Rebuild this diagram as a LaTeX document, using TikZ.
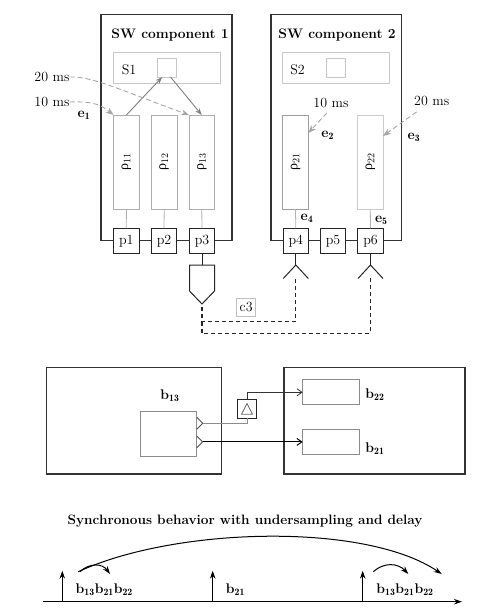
\documentclass[tikz,border=0pt]{standalone}
\usepackage{fontspec}
\newfontfamily\grkfont{Liberation Serif}
\usetikzlibrary{arrows.meta,calc}
\newcommand{\myrho}[1]{{\grkfont ρ}$_{#1}$}
\begin{document}
\begin{tikzpicture}[x=1pt,y=-1pt,
  every node/.style={font=\fontsize{14}{16}\selectfont, text=black, inner sep=0pt, outer sep=0pt},
  titletext/.style={font=\fontsize{13.8}{16}\selectfont\bfseries},
  comp/.style={draw=black!80, line width=1.2pt},
  sbox/.style={draw=black!22, line width=0.9pt},
  rhobox/.style={draw=black!32, line width=0.9pt, minimum width=25.5pt, minimum height=94pt},
  port/.style={draw=black!85, line width=0.9pt, fill=white, minimum width=25.5pt, minimum height=25pt},
  glink/.style={draw=black!30, line width=0.8pt},
  garrow/.style={draw=black!50, line width=0.9pt, -{Stealth[length=7pt,width=5pt]}},
  gdash/.style={draw=black!35, line width=0.9pt, dash pattern=on 5pt off 3pt, -{Stealth[length=8pt,width=6pt]}},
  kdash/.style={draw=black!85, line width=1.1pt, dash pattern=on 4pt off 3pt},
  bigbox/.style={draw=black!80, line width=1.1pt},
  bbox/.style={draw=black!45, line width=0.9pt},
  barb/.style={-{Straight Barb[length=5pt,width=7pt]}},
  karrow/.style={draw=black, line width=1pt, -{Stealth[length=8pt,width=5.5pt]}}
]
\useasboundingbox (0,0) rectangle (484,614);

% ---------------- SW components ----------------
\node[comp, minimum width=131pt, minimum height=226pt] (C1) at (166.5,127.7) {};
\node[comp, minimum width=130.7pt, minimum height=226pt] (C2) at (336.35,127.7) {};
\node[titletext] (T1) at (170,35) {SW component 1};
\node[titletext] (T2) at (337,35) {SW component 2};

\node[sbox, minimum width=107.7pt, minimum height=31pt] (S1) at (166.85,67.8) {};
\node[sbox, minimum width=107pt, minimum height=31pt] (S2) at (335.8,67.8) {};
\node (S1l) at (129,70) {S1};
\node (S2l) at (297.5,70) {S2};
\node[sbox, minimum width=18.5pt, minimum height=19pt] (sq1) at (166.85,67.5) {};
\node[sbox, minimum width=19pt, minimum height=19pt] (sq2) at (335.85,67.5) {};

\node[rhobox] (r11) at (126.4,162) {};
\node[rhobox] (r12) at (164.2,162) {};
\node[rhobox] (r13) at (201.8,162) {};
\node[rhobox, draw=black!38] (r21) at (295.5,162) {};
\node[rhobox, draw=black!20] (r22) at (370.3,162) {};
\node[rotate=90] (r11l) at (r11) {\myrho{11}};
\node[rotate=90] (r12l) at (r12) {\myrho{12}};
\node[rotate=90] (r13l) at (r13) {\myrho{13}};
\node[rotate=90] (r21l) at (r21) {\myrho{21}};
\node[rotate=90] (r22l) at (r22) {\myrho{22}};

\node[port] (p1) at (126.3,240.8) {p1};
\node[port] (p2) at (164,240.8) {p2};
\node[port] (p3) at (202,240.8) {p3};
\node[port] (p4) at (295.8,240.8) {p4};
\node[port] (p5) at (333,240.8) {p5};
\node[port] (p6) at (370.5,240.8) {p6};

\draw[glink] (r11.south) -- (p1.north);
\draw[glink] (r12.south) -- (p2.north);
\draw[glink] (r13.south) -- (p3.north);
\draw[glink] (r21.south) -- (p4.north);
\draw[glink] (r22.south) -- (p6.north);

% internal arrows of component 1
\draw[garrow] (r11.north) -- ($(sq1.south west)!0.25!(sq1.south east)$);
\draw[garrow] ($(sq1.south west)!0.7!(sq1.south east)$) -- (r13.north);

% timing labels
\node (l20a) at (52,77) {20 ms};
\node (l10a) at (52,102) {10 ms};
\node (e1) at (84,115) {\textbf{e}$_{\mathbf{1}}$};
\draw[gdash] (l20a.east) .. controls (92,76) and (120,90) .. (r13.north west);
\draw[gdash] (l10a.east) .. controls (96,101) and (102,106) .. (r11.north west);

\node (l10b) at (331,103) {10 ms};
\node (l20b) at (431.7,101) {20 ms};
\node (e2) at (327.7,135) {\textbf{e}$_{\mathbf{2}}$};
\node (e3) at (414,137) {\textbf{e}$_{\mathbf{3}}$};
\node (e4) at (307,218.3) {\textbf{e}$_{\mathbf{4}}$};
\node (e5) at (381.3,220) {\textbf{e}$_{\mathbf{5}}$};
\draw[gdash] ($(l10b.south)+(-4,5)$) -- ($(r21.north east)+(0,18)$);
\draw[gdash] ($(l20b.south)+(-15,6)$) -- ($(r22.north east)+(0,21)$);

% sender / receivers
\coordinate (o3top) at (202,265);
\coordinate (out3) at (202,304);
\draw[draw=black!85, line width=1pt] (p3.south) -- (o3top);
\draw[draw=black!85, line width=1pt] (189.5,265) -- (189.5,291) -- (out3) -- (214.5,291) -- (214.5,265) -- cycle;
\coordinate (rc4) at (295.8,265);
\coordinate (rc6) at (370.5,265);
\draw[draw=black!85, line width=1pt] (p4.south) -- (rc4);
\draw[draw=black!85, line width=1pt] (p6.south) -- (rc6);
\draw[draw=black!85, line width=1pt] ($(rc4)+(-12.5,13.5)$) -- (rc4) -- ($(rc4)+(12.5,13.5)$);
\draw[draw=black!85, line width=1pt] ($(rc6)+(-12.5,13.5)$) -- (rc6) -- ($(rc6)+(12.5,13.5)$);
\draw[kdash] ($(out3)+(0,3)$) -- (202,321.7) -| ($(rc4)+(0,12)$);
\draw[kdash] (202,321.7) -- (202,333.3) -| ($(rc6)+(0,12)$);
\node[draw=black!25, line width=0.8pt, minimum width=19pt, minimum height=18.5pt] (c3) at (246.2,307.3) {c3};

% ---------------- middle ----------------
\node[bigbox, minimum width=175pt, minimum height=106.7pt] (L) at (134.2,420.65) {};
\node[bigbox, minimum width=181pt, minimum height=106.7pt] (R) at (374.5,420.65) {};
\node[bbox, minimum width=56.7pt, minimum height=45pt] (b13) at (168.35,433.5) {};
\node (b13l) at (170,396) {\textbf{b}$_{\mathbf{13}}$};
\node[bbox, minimum width=56.3pt, minimum height=25pt] (b22) at (330.85,392.3) {};
\node[bbox, minimum width=56.3pt, minimum height=25.7pt] (b21) at (330.85,441.9) {};
\node (b22l) at (375,395) {\textbf{b}$_{\mathbf{22}}$};
\node (b21l) at (375,448.3) {\textbf{b}$_{\mathbf{21}}$};
\node[draw=black!85, line width=0.9pt, minimum width=19.4pt, minimum height=19.3pt] (dl) at (247,408.65) {};
\draw[draw=black!60, line width=0.8pt] (241.5,414.3) -- (247,403.5) -- (252.5,414.3) -- cycle;

\coordinate (o1) at (202.7,423.3);
\coordinate (o2) at (202.7,441.9);
\draw[draw=black!70, line width=0.9pt] (196.7,417.3) -- (o1) -- (196.7,429.3);
\draw[draw=black!70, line width=0.9pt] (196.7,435.9) -- (o2) -- (196.7,447.9);
\draw[draw=black!45, line width=0.9pt] (o1) -| (dl.south);
\draw[draw=black!80, line width=0.8pt, barb] (dl.north) |- (b22.west);
\draw[draw=black, line width=1pt, barb] (o2) -- (b21.west);

% ---------------- bottom ----------------
\node[font=\fontsize{13.6}{16}\selectfont\bfseries] (T3) at (245,520.7) {Synchronous behavior with undersampling and delay};
\coordinate (ax0) at (43.3,601.7);
\coordinate (ax1) at (462,601.7);
\draw[karrow] (ax0) -- (ax1);
\coordinate (t1) at (62.3,601.7);
\coordinate (t2) at (212.7,601.7);
\coordinate (t3) at (362.7,601.7);
\draw[karrow] (t1) -- ++(0,-31);
\draw[karrow] (t2) -- ++(0,-31);
\draw[karrow] (t3) -- ++(0,-31);
\node (lb1) at (104.3,590) {\textbf{b}$_{\mathbf{13}}$\textbf{b}$_{\mathbf{21}}$\textbf{b}$_{\mathbf{22}}$};
\node (lb2) at (235.5,590) {\textbf{b}$_{\mathbf{21}}$};
\node (lb3) at (405,590) {\textbf{b}$_{\mathbf{13}}$\textbf{b}$_{\mathbf{21}}$\textbf{b}$_{\mathbf{22}}$};
\coordinate (a0) at (78.3,571.7);
\coordinate (a1) at (441.7,574);
\draw[karrow] (a0) .. controls (175,527) and (365,522) .. (a1);
\coordinate (s0) at (80,571.7);
\coordinate (s1) at (110,574);
\draw[karrow] (s0) .. controls (89,563) and (102,563) .. (s1);
\coordinate (u0) at (373.3,571.7);
\coordinate (u1) at (408.3,574);
\draw[karrow] (u0) .. controls (384,562) and (398,563) .. (u1);
\end{tikzpicture}
\end{document}
